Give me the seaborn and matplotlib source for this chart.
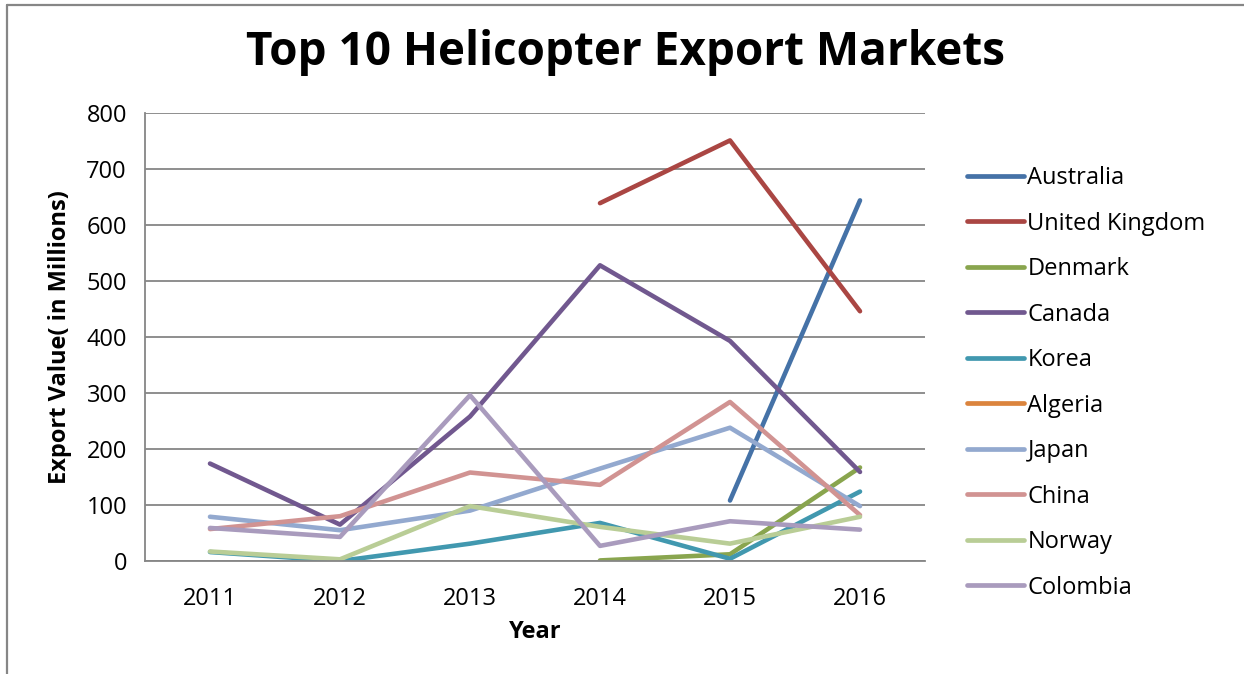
import numpy as np
import pandas as pd
import matplotlib
matplotlib.use("Agg")
import matplotlib.pyplot as plt
from matplotlib.lines import Line2D
import seaborn as sns

years = [2011, 2012, 2013, 2014, 2015, 2016]
countries = ["Australia", "United Kingdom", "Denmark", "Canada", "Korea",
             "Algeria", "Japan", "China", "Norway", "Colombia"]
nan = np.nan
australia = [nan, nan, nan, nan, 108, 644]
united_kingdom = [nan, nan, nan, 639, 751, 446]
denmark = [nan, nan, nan, 1, 12, 167]
canada = [174, 65, 258, 528, 393, 159]
korea = [16, 0, 31, 68, 4, 124]
algeria = [nan, nan, nan, nan, nan, nan]
japan = [79, 55, 90, 165, 238, 98]
china = [57, 80, 158, 136, 284, 82]
norway = [17, 3, 98, 61, 31, 79]
colombia = [59, 43, 296, 27, 71, 56]
series = [australia, united_kingdom, denmark, canada, korea,
          algeria, japan, china, norway, colombia]
colors = ["#4572A7", "#AA4643", "#89A54E", "#71588F", "#4198AF",
          "#DB843D", "#93A9CF", "#D19392", "#B9CD96", "#A99BBD"]

rows = []
for c, vals in zip(countries, series):
    for y, v in zip(years, vals):
        rows.append({"Year": y, "Country": c, "Value": v})
df = pd.DataFrame(rows)

sns.set_theme(style="white")
plt.rcParams['font.family'] = ['Open Sans', 'DejaVu Sans']
plt.rcParams['text.color'] = 'black'
plt.rcParams['axes.labelcolor'] = 'black'

W, H = 1244, 674
fig = plt.figure(figsize=(W / 100, H / 100), dpi=100)
ax = fig.add_axes([145 / W, 1 - 561 / H, 780 / W, 448 / H])

palette = dict(zip(countries, colors))
sns.lineplot(data=df.dropna(), x="Year", y="Value", hue="Country",
             hue_order=countries, palette=palette, linewidth=3.3,
             ax=ax, legend=False, sort=True, estimator=None)
for ln in ax.get_lines():
    ln.set_solid_capstyle("round")
    ln.set_solid_joinstyle("round")

gray = "#868686"
ax.set_xlim(2010.5, 2016.5)
ax.set_ylim(0, 800)
ax.set_yticks(range(0, 801, 100))
ax.yaxis.grid(True, color=gray, linewidth=1.3)
ax.set_axisbelow(True)
ax.set_xticks([2010.5 + i for i in range(7)])
ax.set_xticklabels([])
ax.set_xticks(years, minor=True)
ax.set_xticklabels([str(y) for y in years], minor=True, fontsize=17, color="#000000")
ax.tick_params(axis="x", which="minor", length=0, pad=19)
ax.tick_params(axis="x", which="major", length=7, width=1.3, color=gray, direction="out")
ax.tick_params(axis="y", length=7, width=1.3, color=gray, direction="out",
               labelsize=17, labelcolor="#000000", pad=6)
for s in ["top", "right"]:
    ax.spines[s].set_visible(False)
for s in ["left", "bottom"]:
    ax.spines[s].set_color(gray)
    ax.spines[s].set_linewidth(1.3)

ax.set_xlabel("Year", fontsize=17, fontweight="bold", labelpad=6, color="black")
ax.set_ylabel("Export Value( in Millions)", fontsize=17, fontweight="bold", labelpad=10,
              color="black")
fig.suptitle("Top 10 Helicopter Export Markets", x=626 / W, y=1 - 52 / H,
             va="center", fontsize=33, fontweight="bold", color="black")

handles = [Line2D([0], [0], color=c, linewidth=3.4, solid_capstyle="round") for c in colors]
fig.legend(handles, countries, loc="upper left",
           bbox_to_anchor=(946 / W, 1 - 145 / H), frameon=False,
           fontsize=17, handlelength=2.4, handletextpad=0.15, labelspacing=0.91)

fig.add_artist(Line2D([6.5 / W, 1], [1 - 5 / H, 1 - 5 / H], color=gray, linewidth=1.6,
                      transform=fig.transFigure))
fig.add_artist(Line2D([6.5 / W, 6.5 / W], [0, 1 - 5 / H], color=gray, linewidth=1.6,
                      transform=fig.transFigure))

fig.savefig("out.png", dpi=100, facecolor="white")
